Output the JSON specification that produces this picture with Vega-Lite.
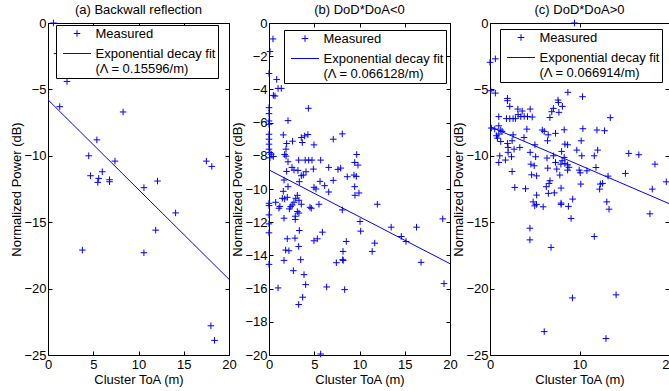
{
  "$schema": "https://vega.github.io/schema/vega-lite/v6.json",
  "padding": {"left": 10, "top": 3, "right": 1, "bottom": 5},
  "background": "white",
  "spacing": 40,
  "bounds": "flush",
  "resolve": {"scale": {"shape": "independent"}, "legend": {"shape": "independent"}},
  "config": {
    "font": "Liberation Sans",
    "view": {"stroke": "#000000", "strokeWidth": 1},
    "axis": {"domain": false, "grid": false, "tickSize": -4, "tickColor": "#000000", "tickWidth": 1, "labelPadding": 6, "labelFontSize": 13, "labelColor": "#000000", "labelFlush": false, "labelOverlap": false, "titleFontSize": 13, "titleFontWeight": "normal", "titleColor": "#000000"},
    "axisX": {"titlePadding": 2, "labelPadding": 7},
    "axisY": {"titlePadding": 0},
    "title": {"fontSize": 13, "fontWeight": "normal", "color": "#000000", "frame": "group", "offset": 0.5},
    "legend": {"labelFontSize": 13, "labelColor": "#000000", "symbolSize": 100, "symbolStrokeWidth": 1, "symbolStrokeColor": "#0000ff", "symbolFillColor": "transparent", "strokeColor": "#000000", "fillColor": "#ffffff", "padding": 2, "rowPadding": 6, "labelOffset": 12, "symbolOffset": 12.5, "cornerRadius": 0, "symbolOpacity": 1}
  },
  "hconcat": [
    {
      "title": "(a) Backwall reflection",
      "width": 181,
      "height": 332,
      "layer": [
        {
          "data": {"values": [
            {"toa": 0.6, "power": 0, "series": "Measured"},
            {"toa": 1.0, "power": -2.3, "series": "Measured"},
            {"toa": 2.1, "power": -4.4, "series": "Measured"},
            {"toa": 1.3, "power": -6.3, "series": "Measured"},
            {"toa": 8.3, "power": -6.7, "series": "Measured"},
            {"toa": 5.4, "power": -8.8, "series": "Measured"},
            {"toa": 4.5, "power": -10.0, "series": "Measured"},
            {"toa": 7.4, "power": -10.4, "series": "Measured"},
            {"toa": 17.5, "power": -10.4, "series": "Measured"},
            {"toa": 18.1, "power": -10.8, "series": "Measured"},
            {"toa": 4.7, "power": -11.5, "series": "Measured"},
            {"toa": 6.0, "power": -11.2, "series": "Measured"},
            {"toa": 5.6, "power": -11.7, "series": "Measured"},
            {"toa": 5.5, "power": -12.0, "series": "Measured"},
            {"toa": 6.8, "power": -11.8, "series": "Measured"},
            {"toa": 6.8, "power": -11.95, "series": "Measured"},
            {"toa": 12.1, "power": -11.9, "series": "Measured"},
            {"toa": 10.6, "power": -12.4, "series": "Measured"},
            {"toa": 14.1, "power": -14.3, "series": "Measured"},
            {"toa": 11.9, "power": -15.6, "series": "Measured"},
            {"toa": 3.8, "power": -17.1, "series": "Measured"},
            {"toa": 10.6, "power": -17.3, "series": "Measured"},
            {"toa": 18.0, "power": -22.8, "series": "Measured"},
            {"toa": 18.4, "power": -23.9, "series": "Measured"}
          ]},
          "mark": {"type": "point", "filled": false, "color": "#0000ff", "size": 100, "strokeWidth": 1, "opacity": 1},
          "encoding": {
            "x": {"field": "toa", "type": "quantitative", "scale": {"domain": [0, 20], "nice": false, "zero": false}, "axis": {"orient": "bottom", "values": [0, 5, 10, 15, 20], "title": "Cluster ToA (m)"}},
            "y": {"field": "power", "type": "quantitative", "scale": {"domain": [-25, 0], "nice": false, "zero": false}, "axis": {"orient": "left", "values": [-25, -20, -15, -10, -5, 0], "title": "Normalized Power (dB)"}},
            "shape": {"field": "series", "type": "nominal", "scale": {"domain": ["Measured", "Fit"], "range": ["M-0.66,0L0.66,0M0,-0.66L0,0.66", "M-2.8,0L2.8,0"]}, "legend": {"title": null, "orient": "none", "legendX": 8, "legendY": 2, "labelExpr": "datum.value == 'Fit' ? ['Exponential decay fit', '(Λ = 0.15596/m)'] : 'Measured'"}}
          }
        },
        {
          "data": {"values": [{"toa": 0, "power": -5.78}, {"toa": 20, "power": -19.3}]},
          "mark": {"type": "line", "color": "#0000ff", "strokeWidth": 1},
          "encoding": {
            "x": {"field": "toa", "type": "quantitative", "axis": {"orient": "top", "labels": false, "title": null, "values": [0, 5, 10, 15, 20]}},
            "y": {"field": "power", "type": "quantitative", "axis": {"orient": "right", "labels": false, "title": null, "values": [-25, -20, -15, -10, -5, 0]}}
          }
        }
      ]
    },
    {
      "title": "(b) DoD*DoA<0",
      "width": 181,
      "height": 332,
      "layer": [
        {
          "data": {"values": [
            {"toa": 0.44, "power": -0.96, "series": "Measured"},
            {"toa": 0.11, "power": -1.72, "series": "Measured"},
            {"toa": 0, "power": -3.04, "series": "Measured"},
            {"toa": 0.85, "power": -3.4, "series": "Measured"},
            {"toa": 1.0, "power": -3.94, "series": "Measured"},
            {"toa": 1.36, "power": -3.94, "series": "Measured"},
            {"toa": 0.48, "power": -4.36, "series": "Measured"},
            {"toa": 0.66, "power": -4.4, "series": "Measured"},
            {"toa": 0, "power": -5.1, "series": "Measured"},
            {"toa": 4.35, "power": -5.14, "series": "Measured"},
            {"toa": 0, "power": -5.46, "series": "Measured"},
            {"toa": 2.1, "power": -5.88, "series": "Measured"},
            {"toa": 0, "power": -5.9, "series": "Measured"},
            {"toa": 0, "power": -6.1, "series": "Measured"},
            {"toa": 0, "power": -6.7, "series": "Measured"},
            {"toa": 0, "power": -7.0, "series": "Measured"},
            {"toa": 0, "power": -7.3, "series": "Measured"},
            {"toa": 0, "power": -7.6, "series": "Measured"},
            {"toa": 1.58, "power": -6.74, "series": "Measured"},
            {"toa": 3.57, "power": -6.9, "series": "Measured"},
            {"toa": 3.94, "power": -6.8, "series": "Measured"},
            {"toa": 4.3, "power": -6.72, "series": "Measured"},
            {"toa": 3.68, "power": -7.2, "series": "Measured"},
            {"toa": 2.6, "power": -7.12, "series": "Measured"},
            {"toa": 1.95, "power": -7.26, "series": "Measured"},
            {"toa": 4.97, "power": -7.34, "series": "Measured"},
            {"toa": 7.1, "power": -7.0, "series": "Measured"},
            {"toa": 8.1, "power": -6.68, "series": "Measured"},
            {"toa": 1.88, "power": -7.6, "series": "Measured"},
            {"toa": 1.73, "power": -7.92, "series": "Measured"},
            {"toa": 1.88, "power": -8.02, "series": "Measured"},
            {"toa": 0.1, "power": -7.8, "series": "Measured"},
            {"toa": 0.25, "power": -7.9, "series": "Measured"},
            {"toa": 0.48, "power": -8.04, "series": "Measured"},
            {"toa": 0.1, "power": -8.12, "series": "Measured"},
            {"toa": 3.28, "power": -8.26, "series": "Measured"},
            {"toa": 4.0, "power": -8.26, "series": "Measured"},
            {"toa": 4.39, "power": -8.26, "series": "Measured"},
            {"toa": 4.75, "power": -8.26, "series": "Measured"},
            {"toa": 5.71, "power": -8.26, "series": "Measured"},
            {"toa": 2.1, "power": -8.36, "series": "Measured"},
            {"toa": 9.69, "power": -7.92, "series": "Measured"},
            {"toa": 9.47, "power": -8.4, "series": "Measured"},
            {"toa": 9.83, "power": -8.56, "series": "Measured"},
            {"toa": 2.54, "power": -8.7, "series": "Measured"},
            {"toa": 2.76, "power": -8.86, "series": "Measured"},
            {"toa": 3.2, "power": -8.88, "series": "Measured"},
            {"toa": 6.6, "power": -8.7, "series": "Measured"},
            {"toa": 4.9, "power": -8.8, "series": "Measured"},
            {"toa": 7.62, "power": -8.82, "series": "Measured"},
            {"toa": 7.92, "power": -8.74, "series": "Measured"},
            {"toa": 1.95, "power": -8.94, "series": "Measured"},
            {"toa": 4.09, "power": -8.96, "series": "Measured"},
            {"toa": 3.57, "power": -9.2, "series": "Measured"},
            {"toa": 3.79, "power": -9.16, "series": "Measured"},
            {"toa": 8.65, "power": -9.26, "series": "Measured"},
            {"toa": 9.39, "power": -9.16, "series": "Measured"},
            {"toa": 9.65, "power": -9.24, "series": "Measured"},
            {"toa": 1.66, "power": -9.46, "series": "Measured"},
            {"toa": 3.35, "power": -9.56, "series": "Measured"},
            {"toa": 5.64, "power": -9.54, "series": "Measured"},
            {"toa": 7.1, "power": -9.48, "series": "Measured"},
            {"toa": 2.1, "power": -9.86, "series": "Measured"},
            {"toa": 6.15, "power": -9.8, "series": "Measured"},
            {"toa": 4.97, "power": -9.9, "series": "Measured"},
            {"toa": 5.19, "power": -10.0, "series": "Measured"},
            {"toa": 9.47, "power": -9.86, "series": "Measured"},
            {"toa": 1.58, "power": -10.14, "series": "Measured"},
            {"toa": 6.6, "power": -10.18, "series": "Measured"},
            {"toa": 9.94, "power": -10.24, "series": "Measured"},
            {"toa": 9.5, "power": -10.38, "series": "Measured"},
            {"toa": 3.13, "power": -10.38, "series": "Measured"},
            {"toa": 2.95, "power": -10.56, "series": "Measured"},
            {"toa": 3.31, "power": -10.68, "series": "Measured"},
            {"toa": 1.47, "power": -10.56, "series": "Measured"},
            {"toa": 1.73, "power": -10.6, "series": "Measured"},
            {"toa": 2.02, "power": -10.5, "series": "Measured"},
            {"toa": 0, "power": -10.86, "series": "Measured"},
            {"toa": 0, "power": -11.0, "series": "Measured"},
            {"toa": 0.74, "power": -10.8, "series": "Measured"},
            {"toa": 1.1, "power": -11.16, "series": "Measured"},
            {"toa": 1.2, "power": -11.05, "series": "Measured"},
            {"toa": 2.4, "power": -11.06, "series": "Measured"},
            {"toa": 2.57, "power": -10.96, "series": "Measured"},
            {"toa": 2.76, "power": -10.8, "series": "Measured"},
            {"toa": 3.57, "power": -10.92, "series": "Measured"},
            {"toa": 4.53, "power": -11.1, "series": "Measured"},
            {"toa": 4.67, "power": -11.16, "series": "Measured"},
            {"toa": 5.52, "power": -10.92, "series": "Measured"},
            {"toa": 2.25, "power": -11.2, "series": "Measured"},
            {"toa": 3.13, "power": -11.36, "series": "Measured"},
            {"toa": 3.31, "power": -11.45, "series": "Measured"},
            {"toa": 8.1, "power": -11.26, "series": "Measured"},
            {"toa": 11.97, "power": -10.92, "series": "Measured"},
            {"toa": 0, "power": -11.56, "series": "Measured"},
            {"toa": 1.66, "power": -11.76, "series": "Measured"},
            {"toa": 2.9, "power": -11.84, "series": "Measured"},
            {"toa": 2.9, "power": -11.64, "series": "Measured"},
            {"toa": 0, "power": -12.1, "series": "Measured"},
            {"toa": 0, "power": -12.64, "series": "Measured"},
            {"toa": 10.06, "power": -11.96, "series": "Measured"},
            {"toa": 10.13, "power": -12.54, "series": "Measured"},
            {"toa": 3.35, "power": -12.5, "series": "Measured"},
            {"toa": 5.9, "power": -12.6, "series": "Measured"},
            {"toa": 2.02, "power": -13.0, "series": "Measured"},
            {"toa": 2.87, "power": -12.96, "series": "Measured"},
            {"toa": 4.97, "power": -13.12, "series": "Measured"},
            {"toa": 5.34, "power": -13.0, "series": "Measured"},
            {"toa": 8.54, "power": -13.16, "series": "Measured"},
            {"toa": 11.68, "power": -13.26, "series": "Measured"},
            {"toa": 13.5, "power": -12.3, "series": "Measured"},
            {"toa": 16.3, "power": -12.3, "series": "Measured"},
            {"toa": 14.62, "power": -12.86, "series": "Measured"},
            {"toa": 15.14, "power": -13.16, "series": "Measured"},
            {"toa": 19.2, "power": -11.8, "series": "Measured"},
            {"toa": 3.28, "power": -13.46, "series": "Measured"},
            {"toa": 1.84, "power": -13.68, "series": "Measured"},
            {"toa": 2.2, "power": -13.72, "series": "Measured"},
            {"toa": 8.18, "power": -13.76, "series": "Measured"},
            {"toa": 11.4, "power": -13.76, "series": "Measured"},
            {"toa": 0, "power": -14.54, "series": "Measured"},
            {"toa": 1.66, "power": -14.3, "series": "Measured"},
            {"toa": 3.5, "power": -14.26, "series": "Measured"},
            {"toa": 7.44, "power": -14.44, "series": "Measured"},
            {"toa": 8.14, "power": -14.26, "series": "Measured"},
            {"toa": 8.2, "power": -14.3, "series": "Measured"},
            {"toa": 16.8, "power": -14.42, "series": "Measured"},
            {"toa": 2.69, "power": -14.92, "series": "Measured"},
            {"toa": 3.87, "power": -15.16, "series": "Measured"},
            {"toa": 4.05, "power": -15.76, "series": "Measured"},
            {"toa": 1.0, "power": -15.96, "series": "Measured"},
            {"toa": 6.37, "power": -15.9, "series": "Measured"},
            {"toa": 8.36, "power": -16.06, "series": "Measured"},
            {"toa": 19.34, "power": -15.7, "series": "Measured"},
            {"toa": 3.72, "power": -16.52, "series": "Measured"},
            {"toa": 3.28, "power": -16.96, "series": "Measured"},
            {"toa": 5.71, "power": -19.94, "series": "Measured"}
          ]},
          "mark": {"type": "point", "filled": false, "color": "#0000ff", "size": 100, "strokeWidth": 1, "opacity": 1},
          "encoding": {
            "x": {"field": "toa", "type": "quantitative", "scale": {"domain": [0, 20], "nice": false, "zero": false}, "axis": {"orient": "bottom", "values": [0, 5, 10, 15, 20], "title": "Cluster ToA (m)"}},
            "y": {"field": "power", "type": "quantitative", "scale": {"domain": [-20, 0], "nice": false, "zero": false}, "axis": {"orient": "left", "values": [-20, -18, -16, -14, -12, -10, -8, -6, -4, -2, 0], "title": "Normalized Power (dB)"}},
            "shape": {"field": "series", "type": "nominal", "scale": {"domain": ["Measured", "Fit"], "range": ["M-0.66,0L0.66,0M0,-0.66L0,0.66", "M-2.8,0L2.8,0"]}, "legend": {"title": null, "orient": "none", "legendX": 15, "legendY": 7, "labelExpr": "datum.value == 'Fit' ? ['Exponential decay fit', '(Λ  = 0.066128/m)'] : 'Measured'"}}
          }
        },
        {
          "data": {"values": [{"toa": 0, "power": -8.85}, {"toa": 20, "power": -14.5}]},
          "mark": {"type": "line", "color": "#0000ff", "strokeWidth": 1},
          "encoding": {
            "x": {"field": "toa", "type": "quantitative", "axis": {"orient": "top", "labels": false, "title": null, "values": [0, 5, 10, 15, 20]}},
            "y": {"field": "power", "type": "quantitative", "axis": {"orient": "right", "labels": false, "title": null, "values": [-20, -18, -16, -14, -12, -10, -8, -6, -4, -2, 0]}}
          }
        }
      ]
    },
    {
      "title": "(c) DoD*DoA>0",
      "width": 179,
      "height": 332,
      "layer": [
        {
          "data": {"values": [
            {"toa": 9.44, "power": 0, "series": "Measured"},
            {"toa": 0, "power": -2.96, "series": "Measured"},
            {"toa": 0.6, "power": -2.7, "series": "Measured"},
            {"toa": 0.1, "power": -5.1, "series": "Measured"},
            {"toa": 0.6, "power": -5.28, "series": "Measured"},
            {"toa": 8.7, "power": -5.22, "series": "Measured"},
            {"toa": 10.34, "power": -5.55, "series": "Measured"},
            {"toa": 1.95, "power": -5.68, "series": "Measured"},
            {"toa": 1.95, "power": -5.85, "series": "Measured"},
            {"toa": 2.21, "power": -6.28, "series": "Measured"},
            {"toa": 7.6, "power": -5.8, "series": "Measured"},
            {"toa": 7.65, "power": -5.98, "series": "Measured"},
            {"toa": 7.08, "power": -6.43, "series": "Measured"},
            {"toa": 6.9, "power": -6.68, "series": "Measured"},
            {"toa": 8.09, "power": -6.28, "series": "Measured"},
            {"toa": 7.7, "power": -6.73, "series": "Measured"},
            {"toa": 3.11, "power": -6.48, "series": "Measured"},
            {"toa": 4.49, "power": -6.48, "series": "Measured"},
            {"toa": 0.98, "power": -7.05, "series": "Measured"},
            {"toa": 1.84, "power": -7.2, "series": "Measured"},
            {"toa": 2.21, "power": -7.2, "series": "Measured"},
            {"toa": 2.58, "power": -7.2, "series": "Measured"},
            {"toa": 2.84, "power": -7.2, "series": "Measured"},
            {"toa": 3.14, "power": -6.9, "series": "Measured"},
            {"toa": 3.44, "power": -7.05, "series": "Measured"},
            {"toa": 3.6, "power": -6.63, "series": "Measured"},
            {"toa": 3.82, "power": -7.03, "series": "Measured"},
            {"toa": 4.19, "power": -7.05, "series": "Measured"},
            {"toa": 4.72, "power": -7.08, "series": "Measured"},
            {"toa": 6.69, "power": -7.12, "series": "Measured"},
            {"toa": 13.44, "power": -7.13, "series": "Measured"},
            {"toa": 0.15, "power": -7.91, "series": "Measured"},
            {"toa": 0.53, "power": -7.99, "series": "Measured"},
            {"toa": 0.98, "power": -7.74, "series": "Measured"},
            {"toa": 1.2, "power": -8.06, "series": "Measured"},
            {"toa": 1.35, "power": -8.16, "series": "Measured"},
            {"toa": 0.72, "power": -8.49, "series": "Measured"},
            {"toa": 0.98, "power": -8.36, "series": "Measured"},
            {"toa": 0.83, "power": -8.67, "series": "Measured"},
            {"toa": 1.2, "power": -8.92, "series": "Measured"},
            {"toa": 2.58, "power": -8.42, "series": "Measured"},
            {"toa": 2.47, "power": -8.87, "series": "Measured"},
            {"toa": 1.95, "power": -9.07, "series": "Measured"},
            {"toa": 2.02, "power": -9.37, "series": "Measured"},
            {"toa": 2.69, "power": -9.5, "series": "Measured"},
            {"toa": 3.33, "power": -9.37, "series": "Measured"},
            {"toa": 3.8, "power": -8.62, "series": "Measured"},
            {"toa": 4.12, "power": -7.99, "series": "Measured"},
            {"toa": 1.09, "power": -10.0, "series": "Measured"},
            {"toa": 0.98, "power": -10.5, "series": "Measured"},
            {"toa": 1.72, "power": -10.32, "series": "Measured"},
            {"toa": 2.02, "power": -9.74, "series": "Measured"},
            {"toa": 2.4, "power": -10.07, "series": "Measured"},
            {"toa": 2.47, "power": -11.18, "series": "Measured"},
            {"toa": 2.77, "power": -12.38, "series": "Measured"},
            {"toa": 3.97, "power": -12.48, "series": "Measured"},
            {"toa": 5.21, "power": -12.96, "series": "Measured"},
            {"toa": 5.02, "power": -9.17, "series": "Measured"},
            {"toa": 4.49, "power": -9.74, "series": "Measured"},
            {"toa": 5.1, "power": -10.07, "series": "Measured"},
            {"toa": 4.57, "power": -10.63, "series": "Measured"},
            {"toa": 4.94, "power": -10.75, "series": "Measured"},
            {"toa": 4.65, "power": -11.43, "series": "Measured"},
            {"toa": 5.21, "power": -11.51, "series": "Measured"},
            {"toa": 5.84, "power": -8.06, "series": "Measured"},
            {"toa": 6.06, "power": -8.16, "series": "Measured"},
            {"toa": 6.5, "power": -8.42, "series": "Measured"},
            {"toa": 6.43, "power": -8.87, "series": "Measured"},
            {"toa": 7.32, "power": -8.31, "series": "Measured"},
            {"toa": 8.29, "power": -8.04, "series": "Measured"},
            {"toa": 8.37, "power": -9.12, "series": "Measured"},
            {"toa": 8.67, "power": -9.17, "series": "Measured"},
            {"toa": 8.0, "power": -9.67, "series": "Measured"},
            {"toa": 6.37, "power": -10.17, "series": "Measured"},
            {"toa": 7.08, "power": -10.0, "series": "Measured"},
            {"toa": 8.29, "power": -10.12, "series": "Measured"},
            {"toa": 8.06, "power": -10.37, "series": "Measured"},
            {"toa": 7.32, "power": -10.5, "series": "Measured"},
            {"toa": 7.92, "power": -10.63, "series": "Measured"},
            {"toa": 8.37, "power": -10.57, "series": "Measured"},
            {"toa": 8.67, "power": -10.68, "series": "Measured"},
            {"toa": 8.82, "power": -10.87, "series": "Measured"},
            {"toa": 6.45, "power": -10.93, "series": "Measured"},
            {"toa": 7.46, "power": -11.0, "series": "Measured"},
            {"toa": 7.8, "power": -11.45, "series": "Measured"},
            {"toa": 8.67, "power": -11.08, "series": "Measured"},
            {"toa": 6.7, "power": -11.88, "series": "Measured"},
            {"toa": 6.6, "power": -12.08, "series": "Measured"},
            {"toa": 6.29, "power": -12.33, "series": "Measured"},
            {"toa": 7.94, "power": -12.43, "series": "Measured"},
            {"toa": 6.52, "power": -12.83, "series": "Measured"},
            {"toa": 7.19, "power": -12.79, "series": "Measured"},
            {"toa": 10.19, "power": -8.87, "series": "Measured"},
            {"toa": 10.38, "power": -7.96, "series": "Measured"},
            {"toa": 9.7, "power": -9.57, "series": "Measured"},
            {"toa": 10.26, "power": -10.0, "series": "Measured"},
            {"toa": 11.65, "power": -10.0, "series": "Measured"},
            {"toa": 12.03, "power": -9.57, "series": "Measured"},
            {"toa": 12.8, "power": -8.11, "series": "Measured"},
            {"toa": 11.95, "power": -8.06, "series": "Measured"},
            {"toa": 11.84, "power": -10.88, "series": "Measured"},
            {"toa": 9.97, "power": -11.08, "series": "Measured"},
            {"toa": 10.08, "power": -11.28, "series": "Measured"},
            {"toa": 10.83, "power": -11.13, "series": "Measured"},
            {"toa": 10.15, "power": -12.13, "series": "Measured"},
            {"toa": 12.33, "power": -12.13, "series": "Measured"},
            {"toa": 12.58, "power": -12.08, "series": "Measured"},
            {"toa": 12.25, "power": -12.51, "series": "Measured"},
            {"toa": 13.19, "power": -11.53, "series": "Measured"},
            {"toa": 15.5, "power": -9.82, "series": "Measured"},
            {"toa": 16.63, "power": -9.92, "series": "Measured"},
            {"toa": 18.43, "power": -10.63, "series": "Measured"},
            {"toa": 15.13, "power": -11.33, "series": "Measured"},
            {"toa": 18.13, "power": -12.51, "series": "Measured"},
            {"toa": 19.7, "power": -11.96, "series": "Measured"},
            {"toa": 4.82, "power": -13.47, "series": "Measured"},
            {"toa": 5.0, "power": -13.77, "series": "Measured"},
            {"toa": 5.2, "power": -13.66, "series": "Measured"},
            {"toa": 5.94, "power": -13.84, "series": "Measured"},
            {"toa": 7.94, "power": -13.56, "series": "Measured"},
            {"toa": 7.94, "power": -13.66, "series": "Measured"},
            {"toa": 8.76, "power": -13.81, "series": "Measured"},
            {"toa": 9.24, "power": -13.26, "series": "Measured"},
            {"toa": 13.05, "power": -13.47, "series": "Measured"},
            {"toa": 13.3, "power": -14.02, "series": "Measured"},
            {"toa": 9.06, "power": -14.72, "series": "Measured"},
            {"toa": 17.87, "power": -14.37, "series": "Measured"},
            {"toa": 4.46, "power": -15.45, "series": "Measured"},
            {"toa": 4.46, "power": -16.33, "series": "Measured"},
            {"toa": 6.82, "power": -16.9, "series": "Measured"},
            {"toa": 11.65, "power": -16.08, "series": "Measured"},
            {"toa": 9.21, "power": -20.7, "series": "Measured"},
            {"toa": 14.09, "power": -20.47, "series": "Measured"},
            {"toa": 6.06, "power": -23.24, "series": "Measured"},
            {"toa": 12.96, "power": -23.76, "series": "Measured"}
          ]},
          "mark": {"type": "point", "filled": false, "color": "#0000ff", "size": 100, "strokeWidth": 1, "opacity": 1},
          "encoding": {
            "x": {"field": "toa", "type": "quantitative", "scale": {"domain": [0, 20], "nice": false, "zero": false}, "axis": {"orient": "bottom", "values": [0, 10, 20], "title": "Cluster ToA (m)"}},
            "y": {"field": "power", "type": "quantitative", "scale": {"domain": [-25, 0], "nice": false, "zero": false}, "axis": {"orient": "left", "values": [-25, -20, -15, -10, -5, 0], "title": "Normalized Power (dB)"}},
            "shape": {"field": "series", "type": "nominal", "scale": {"domain": ["Measured", "Fit"], "range": ["M-0.66,0L0.66,0M0,-0.66L0,0.66", "M-2.8,0L2.8,0"]}, "legend": {"title": null, "orient": "none", "legendX": 10, "legendY": 6, "labelExpr": "datum.value == 'Fit' ? ['Exponential decay fit', '(Λ  = 0.066914/m)'] : 'Measured'"}}
          }
        },
        {
          "data": {"values": [{"toa": 0, "power": -7.8}, {"toa": 20, "power": -13.6}]},
          "mark": {"type": "line", "color": "#0000ff", "strokeWidth": 1},
          "encoding": {
            "x": {"field": "toa", "type": "quantitative", "axis": {"orient": "top", "labels": false, "title": null, "values": [0, 10, 20]}},
            "y": {"field": "power", "type": "quantitative", "axis": {"orient": "right", "labels": false, "title": null, "values": [-25, -20, -15, -10, -5, 0]}}
          }
        }
      ]
    }
  ]
}
